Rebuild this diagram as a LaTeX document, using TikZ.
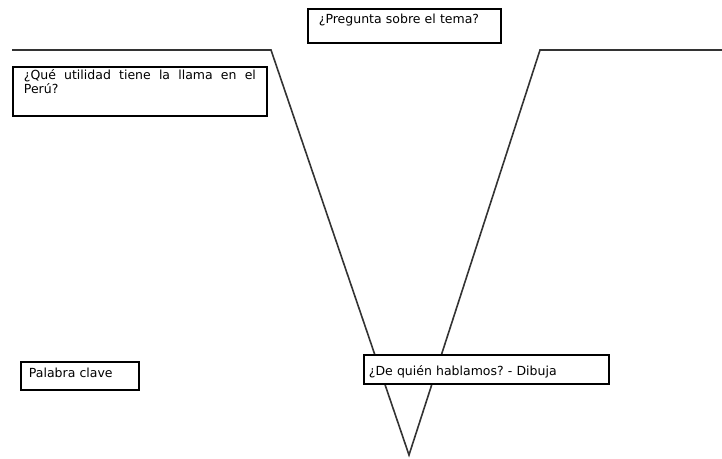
\documentclass[tikz,border=0pt]{standalone}
\usepackage{fontspec}
\setmainfont{DejaVu Sans}
\definecolor{trazo}{HTML}{333333}
\newcommand{\rotulo}{\fontsize{12.5}{10.5}\selectfont\frenchspacing}
\tikzset{linea/.style={trazo,line width=1.6pt,line join=miter},
  caja/.style={draw=black,line width=1.8pt,fill=white,anchor=north west,
    font=\rotulo,text height=9pt,align=left}}

\begin{document}
\begin{tikzpicture}[x=1pt,y=-1pt]
\useasboundingbox (0,0) rectangle (722,458);
% la V
\coordinate (izq) at (12,50);
\coordinate (codoIzq) at (271,50);
\coordinate (vertice) at (409,455);
\coordinate (codoDer) at (540,50);
\coordinate (der) at (722,50);
\draw[linea] (izq) -- (codoIzq) -- (vertice) -- (codoDer) -- (der);
% cajas
\node[caja,inner xsep=11pt,inner ysep=6pt,text width=171pt,text depth=13pt] (pregunta) at (307,8) {¿Pregunta sobre el tema?};
\node[caja,inner xsep=11pt,inner ysep=4pt,text width=232pt,text depth=32pt,align=justify] (utilidad) at (12,66) {¿Qué utilidad tiene la llama en el Perú?};
\node[caja,inner xsep=8pt,inner ysep=7pt,text width=102pt,text depth=5pt] (clave) at (20,361) {Palabra clave};
\node[caja,inner xsep=5pt,inner ysep=4pt,text width=235pt,text height=17pt,text depth=4pt] (dibuja) at (363,354) {¿De quién hablamos? - Dibuja};
\end{tikzpicture}
\end{document}
